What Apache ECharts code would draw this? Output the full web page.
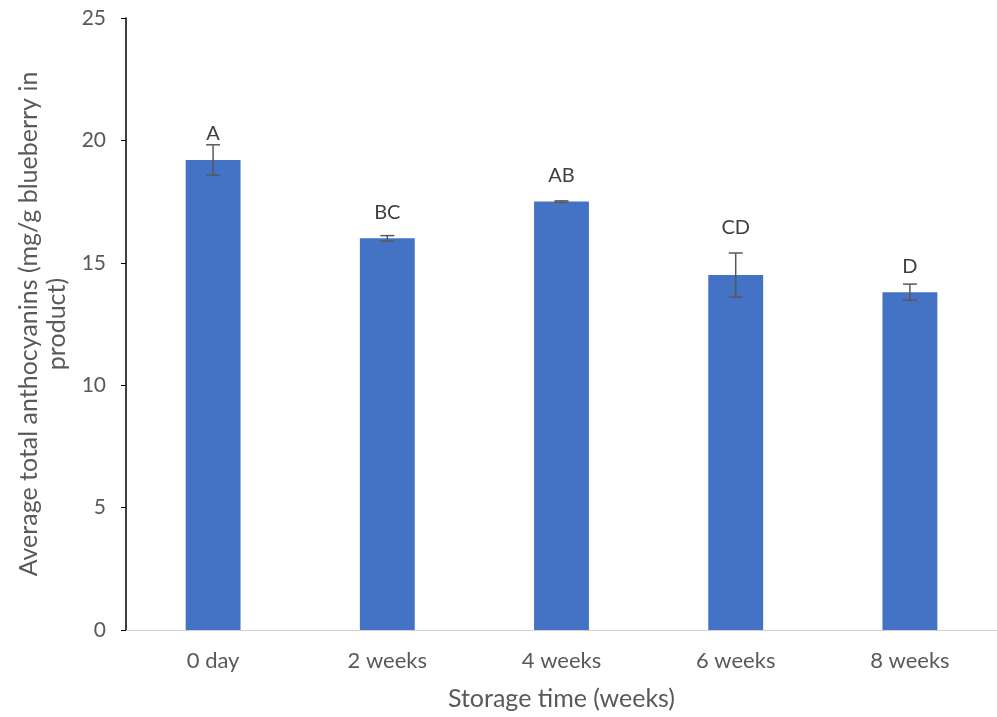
<!DOCTYPE html>
<html>
<head>
<meta charset="utf-8">
<script src="https://cdn.jsdelivr.net/npm/echarts@6/dist/echarts.min.js"></script>
<style>
  html, body { margin: 0; padding: 0; background: #fff; }
  #chart { width: 997px; height: 717px; }
</style>
</head>
<body>
<div id="chart"></div>
<script>
// Storage times and measured mean anthocyanin content
const categories = ['0 day', '2 weeks', '4 weeks', '6 weeks', '8 weeks'];
const means = [19.2, 16.0, 17.5, 14.5, 13.8];
// Standard deviations (symmetric error bars)
const errors = [0.62, 0.11, 0.03, 0.9, 0.33];
// Significance letters
const letters = ['A', 'BC', 'AB', 'CD', 'D'];
const yTicks = { min: 0, max: 25, interval: 5 };

const FONT = 'Lato, "Open Sans", sans-serif';
const chart = echarts.init(document.getElementById('chart'));

const errData = categories.map((c, i) => [i, means[i], errors[i], letters[i]]);

chart.setOption({
  animation: false,
  grid: { left: 126, right: 0, top: 18, bottom: 87, containLabel: false, outerBoundsMode: 'none' },
  xAxis: {
    type: 'category',
    data: categories,
    axisLine: { lineStyle: { color: '#d0d0d0', width: 1 } },
    axisTick: { show: false },
    axisLabel: { color: '#595959', fontSize: 22, fontFamily: FONT, margin: 20 },
    name: 'Storage time (weeks)',
    nameLocation: 'middle',
    nameGap: 56,
    nameTextStyle: { color: '#595959', fontSize: 25, fontFamily: FONT }
  },
  yAxis: {
    type: 'value',
    min: yTicks.min, max: yTicks.max, interval: yTicks.interval,
    axisLine: { show: true, lineStyle: { color: '#000', width: 1.5 } },
    axisTick: { show: true, length: 5, lineStyle: { color: '#000' } },
    splitLine: { show: false },
    axisLabel: { color: '#595959', fontSize: 21, fontFamily: FONT, margin: 20 },
    name: 'Average total anthocyanins (mg/g blueberry in\nproduct)',
    nameLocation: 'middle',
    nameGap: 55,
    nameTextStyle: { color: '#595959', fontSize: 25, fontFamily: FONT, lineHeight: 28 }
  },
  series: [
    {
      type: 'bar',
      data: means,
      barWidth: '31.5%',
      itemStyle: { color: '#4472c4' }
    },
    {
      type: 'custom',
      data: errData,
      z: 10,
      renderItem: function (params, api) {
        const x = api.value(0);
        const m = api.value(1);
        const e = api.value(2);
        const top = api.coord([x, m + e]);
        const bot = api.coord([x, m - e]);
        const barTop = api.coord([x, m])[1];
        const cap = 7;
        const style = { stroke: '#595959', lineWidth: 1.5 };
        // letter sits above the bar; lifted clear of a tall error bar
        let ly = barTop - 26;
        if (top[1] < ly + 10) ly = top[1] - 25;
        return {
          type: 'group',
          children: [
            { type: 'line', shape: { x1: top[0], y1: top[1], x2: bot[0], y2: bot[1] }, style: style },
            { type: 'line', shape: { x1: top[0] - cap, y1: top[1], x2: top[0] + cap, y2: top[1] }, style: style },
            { type: 'line', shape: { x1: bot[0] - cap, y1: bot[1], x2: bot[0] + cap, y2: bot[1] }, style: style },
            {
              type: 'text',
              style: {
                x: top[0], y: ly,
                text: api.value(3),
                fill: '#404040',
                font: '20px ' + FONT,
                textAlign: 'center',
                textVerticalAlign: 'middle'
              }
            }
          ]
        };
      }
    }
  ]
});
</script>
</body>
</html>
